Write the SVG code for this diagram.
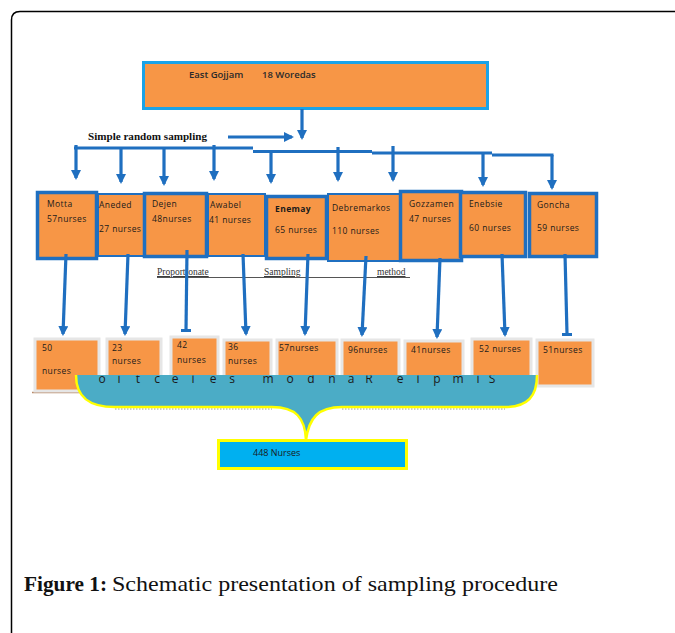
<svg xmlns="http://www.w3.org/2000/svg" width="675" height="633" viewBox="0 0 675 633">
<style>
.lbl{font-family:"Open Sans","Liberation Sans",sans-serif;font-size:8.5px;fill:#1a1a1a;letter-spacing:0.4px}
.org{fill:#f79646}
.thick{fill:#f79646;stroke:#1f6fc0;stroke-width:3.5}
.thin{fill:#f79646;stroke:#1f6fc0;stroke-width:2}
.low{fill:#f79646;stroke:#e6e6e6;stroke-width:3}
.arr{stroke:#1f6fc0;stroke-width:3.2;fill:none}
.serif{font-family:"Liberation Serif","Times New Roman",serif}
</style>
<defs>
<marker id="ah" viewBox="0 0 10 10" refX="8" refY="5" markerWidth="10" markerHeight="10" markerUnits="userSpaceOnUse" orient="auto">
<path d="M0,0 L10,5 L0,10 z" fill="#1f6fc0"/>
</marker>
<marker id="bar" viewBox="0 0 10 10" refX="5" refY="5" markerWidth="10" markerHeight="10" markerUnits="userSpaceOnUse" orient="auto">
<rect x="4" y="0" width="3" height="10" fill="#1f6fc0"/>
</marker>
<clipPath id="brclip"><rect x="60" y="375.5" width="500" height="30"/></clipPath>
</defs>
<rect width="675" height="633" fill="#ffffff"/>
<path d="M11.5 633 L11.5 20 Q11.5 11.5 20 11.5 L675 11.5" fill="none" stroke="#000" stroke-width="1.5"/>

<g id="top">
<rect x="143.5" y="62.5" width="344" height="46" fill="#f79646" stroke="#1aa3e8" stroke-width="3"/>
<text x="189" y="78" style="font-family:'Open Sans','Liberation Sans',sans-serif;font-size:9.5px;font-weight:600;fill:#2a2a2a">East Gojjam</text>
<text x="262" y="78" style="font-family:'Open Sans','Liberation Sans',sans-serif;font-size:9.5px;font-weight:600;fill:#2a2a2a">18 Woredas</text>
</g>
<text id="srs" class="serif" x="88" y="140" font-size="10" font-weight="bold" textLength="119" lengthAdjust="spacingAndGlyphs" fill="#111">Simple random sampling</text>

<g id="connectors">
<line class="arr" x1="302" y1="109" x2="302" y2="138" marker-end="url(#ah)"/>
<line class="arr" x1="228" y1="137" x2="292" y2="137" marker-end="url(#ah)"/>
<path class="arr" d="M74 148 L253 148 M253 151.5 L372 151.5 M372 153 L492 153 M492 155 L553.5 155"/>
<line class="arr" x1="76" y1="145" x2="76" y2="178" marker-end="url(#ah)"/>
<line class="arr" x1="121" y1="148" x2="121" y2="182" marker-end="url(#ah)"/>
<line class="arr" x1="164" y1="148" x2="164" y2="184" marker-end="url(#ah)"/>
<line class="arr" x1="214" y1="145" x2="214" y2="179" marker-end="url(#ah)"/>
<line class="arr" x1="271" y1="151" x2="271" y2="182" marker-end="url(#ah)"/>
<line class="arr" x1="338" y1="147" x2="338" y2="180" marker-end="url(#ah)"/>
<line class="arr" x1="393" y1="146" x2="393" y2="180" marker-end="url(#ah)"/>
<line class="arr" x1="483" y1="153" x2="483" y2="185" marker-end="url(#ah)"/>
<line class="arr" x1="552" y1="155" x2="552" y2="188" marker-end="url(#ah)"/>
</g>

<g id="n-aneded"><rect class="thin" x="98" y="194" width="46" height="62"/><text class="lbl" x="99" y="208">Aneded</text><text class="lbl" x="99" y="232">27 nurses</text></g>
<g id="n-awabel"><rect class="thin" x="208" y="194" width="57" height="62"/><text class="lbl" x="210" y="208">Awabel</text><text class="lbl" x="209" y="223">41 nurses</text></g>
<g id="n-debremarkos"><rect class="thin" x="328" y="194" width="72" height="67"/><text class="lbl" x="332" y="211">Debremarkos</text><text class="lbl" x="332" y="234">110 nurses</text></g>
<g id="n-motta"><rect class="thick" x="37.5" y="192.5" width="59" height="66"/><text class="lbl" x="47" y="207">Motta</text><text class="lbl" x="47" y="222">57nurses</text></g>
<g id="n-dejen"><rect class="thick" x="144.5" y="193.5" width="62" height="63"/><text class="lbl" x="152" y="207">Dejen</text><text class="lbl" x="152" y="222">48nurses</text></g>
<g id="n-enemay"><rect class="thick" x="266.5" y="196.5" width="60" height="62"/><text class="lbl" x="275" y="212" font-weight="bold">Enemay</text><text class="lbl" x="275" y="233">65 nurses</text></g>
<g id="n-gozzamen"><rect class="thick" x="400.5" y="191.5" width="61" height="69"/><text class="lbl" x="409" y="207">Gozzamen</text><text class="lbl" x="409" y="222">47 nurses</text></g>
<g id="n-enebsie"><rect class="thick" x="460.5" y="192.5" width="65" height="64"/><text class="lbl" x="469" y="207">Enebsie</text><text class="lbl" x="469" y="231">60 nurses</text></g>
<g id="n-goncha"><rect class="thick" x="529.5" y="193.5" width="67" height="63"/><text class="lbl" x="537" y="208">Goncha</text><text class="lbl" x="537" y="231">59 nurses</text></g>

<g id="method">
<line x1="157" y1="277.5" x2="410" y2="277.5" stroke="#555" stroke-width="1"/>
<text class="serif" x="157" y="275" font-size="9.5" fill="#333" text-decoration="underline">Proportionate</text>
<text class="serif" x="264" y="275" font-size="9.5" fill="#333" text-decoration="underline">Sampling</text>
<text class="serif" x="377" y="275" font-size="9.5" fill="#333" text-decoration="underline">method</text>
</g>

<g id="connectors2">
<line class="arr" x1="66" y1="254" x2="63" y2="334" marker-end="url(#ah)"/>
<line class="arr" x1="128" y1="254" x2="125" y2="334" marker-end="url(#ah)"/>
<line class="arr" x1="187" y1="250" x2="186" y2="330" marker-end="url(#bar)"/>
<line class="arr" x1="243" y1="254" x2="246" y2="334" marker-end="url(#ah)"/>
<line class="arr" x1="308" y1="254" x2="305" y2="334" marker-end="url(#ah)"/>
<line class="arr" x1="366" y1="256" x2="362" y2="335" marker-end="url(#ah)"/>
<line class="arr" x1="440" y1="258" x2="437" y2="337" marker-end="url(#ah)"/>
<line class="arr" x1="502" y1="254" x2="505" y2="335" marker-end="url(#ah)"/>
<line class="arr" x1="565" y1="254" x2="567" y2="334" marker-end="url(#bar)"/>
</g>

<line x1="32" y1="392.5" x2="102" y2="392.5" stroke="#b88a6a" stroke-width="1.5"/>
<g id="b1"><rect class="low" x="35" y="339" width="64" height="52"/><text class="lbl" x="42" y="351">50</text><text class="lbl" x="42" y="374">nurses</text></g>
<g id="b2"><rect class="low" x="107" y="339" width="54" height="48"/><text class="lbl" x="112" y="351">23</text><text class="lbl" x="112" y="364">nurses</text></g>
<g id="b3"><rect class="low" x="171" y="337" width="47" height="48"/><text class="lbl" x="177" y="348">42</text><text class="lbl" x="177" y="363">nurses</text></g>
<g id="b4"><rect class="low" x="224" y="340" width="47" height="47"/><text class="lbl" x="228" y="350">36</text><text class="lbl" x="228" y="364">nurses</text></g>
<g id="b5"><rect class="low" x="277" y="340" width="60" height="47"/><text class="lbl" x="279" y="351">57nurses</text></g>
<g id="b6"><rect class="low" x="342" y="340" width="57" height="47"/><text class="lbl" x="348" y="353">96nurses</text></g>
<g id="b7"><rect class="low" x="405" y="341" width="58" height="46"/><text class="lbl" x="411" y="353">41nurses</text></g>
<g id="b8"><rect class="low" x="472" y="339" width="59" height="48"/><text class="lbl" x="479" y="352">52 nurses</text></g>
<g id="b9"><rect class="low" x="537" y="340" width="56" height="46"/><text class="lbl" x="543" y="353">51nurses</text></g>

<g id="brace">
<path d="M115 409 L272 409 M342 409 L505 409" stroke="#9a9a9a" stroke-width="1" stroke-dasharray="1.5 1.5" fill="none"/>
<path d="M76 375 C76 398 90 407 115 407 L272 407 C296 407 305 418 306 440 C309 418 318 407 342 407 L505 407 C528 407 537 396 537 375 Z" fill="#4bacc6"/>
<path d="M76 375 C76 398 90 407 115 407 L272 407 C296 407 305 418 306 440 C309 418 318 407 342 407 L505 407 C528 407 537 396 537 375" fill="none" stroke="#ffff00" stroke-width="2.5"/>
<text clip-path="url(#brclip)" x="102 119 138 157 175 193 213 232 250 268 290 311 332 351 369 385 400 418 437 458 478 492" y="383" text-anchor="middle" style="font-family:'Open Sans','Liberation Sans',sans-serif;font-size:12px;fill:#1a1a1a">oitceles modnaR elpmiS</text>
</g>

<g id="total">
<rect x="218.5" y="440.5" width="188" height="28" fill="#00b0f0" stroke="#ffff00" stroke-width="3"/>
<text x="253" y="456" style="font-family:'Open Sans','Liberation Sans',sans-serif;font-size:9px;fill:#1a1a1a">448 Nurses</text>
</g>

<text class="serif" x="24" y="591" font-size="22" fill="#111"><tspan font-weight="bold" textLength="83" lengthAdjust="spacingAndGlyphs">Figure 1:</tspan><tspan x="112" textLength="446" lengthAdjust="spacingAndGlyphs">Schematic presentation of sampling procedure</tspan></text>
</svg>
